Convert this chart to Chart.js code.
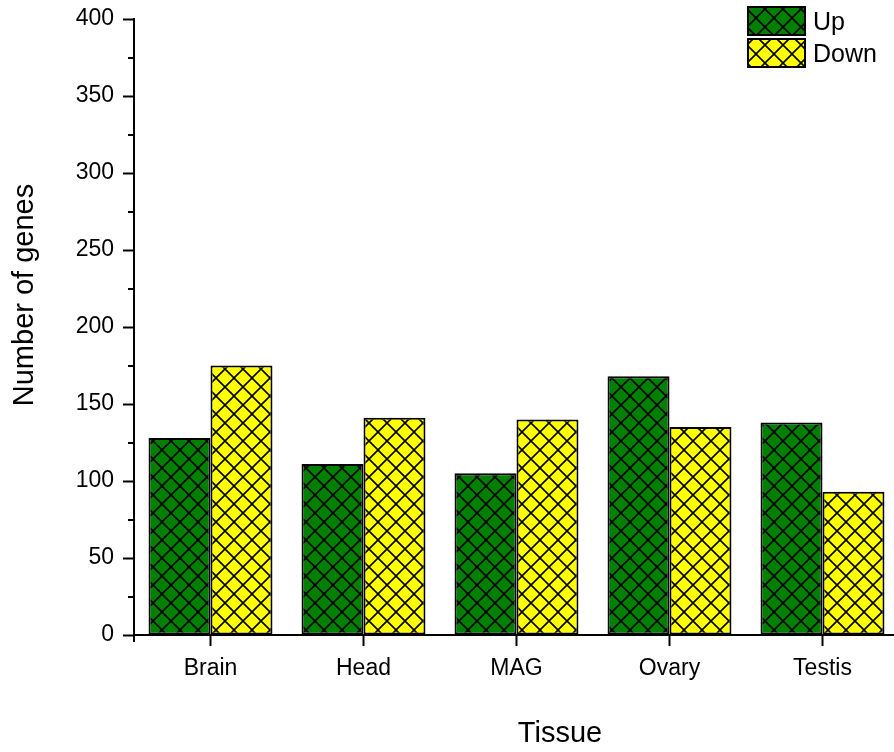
<!DOCTYPE html>
<html>
<head>
<meta charset="utf-8">
<script src="https://cdn.jsdelivr.net/npm/chart.js@4.4.1/dist/chart.umd.min.js"></script>
<style>
  html, body { margin: 0; padding: 0; background: #fff; overflow: hidden; }
  canvas { display: block; }
</style>
</head>
<body>
<canvas id="c" width="905" height="752"></canvas>
<script>
// Differentially expressed genes per tissue
const tissues = ['Brain', 'Head', 'MAG', 'Ovary', 'Testis'];
const upGenes = [128, 111, 105, 168, 138];
const downGenes = [175, 141, 140, 135, 93];
const seriesNames = ['Up', 'Down'];
const yMajorStep = 50;
const yMinorTicks = [25, 75, 125, 175, 225, 275, 325, 375];
const yRange = [0, 400];
const xTitle = 'Tissue';
const yTitle = 'Number of genes';

const FONT = "'Liberation Sans', Arial, sans-serif";
const canvas = document.getElementById('c');
const ctx = canvas.getContext('2d');

// cross-hatched fill: solid colour with black diagonal lines both ways
function crossHatch(color) {
  const s = 18;
  const tile = document.createElement('canvas');
  tile.width = tile.height = s;
  const g = tile.getContext('2d');
  g.fillStyle = color;
  g.fillRect(0, 0, s, s);
  g.strokeStyle = '#000';
  g.lineWidth = 1.6;
  g.beginPath();
  g.moveTo(-2, -2); g.lineTo(s + 2, s + 2);
  g.moveTo(-2, s + 2); g.lineTo(s + 2, -2);
  g.stroke();
  return ctx.createPattern(tile, 'repeat');
}

const upFill = crossHatch('#008000');
const downFill = crossHatch('#ffff00');

// extra drawing: minor ticks, axis titles and the legend
const decorations = {
  id: 'decorations',
  afterDraw(chart) {
    const c = chart.ctx;
    const area = chart.chartArea;
    const y = chart.scales.y;
    c.save();
    c.strokeStyle = '#000';
    c.lineWidth = 2;
    c.beginPath();
    yMinorTicks.forEach(v => {
      const py = Math.round(y.getPixelForValue(v));
      c.moveTo(area.left - 6, py);
      c.lineTo(area.left, py);
    });
    // short stub below the origin
    c.moveTo(area.left, area.bottom);
    c.lineTo(area.left, area.bottom + 7);
    c.stroke();

    // axis titles
    c.fillStyle = '#000';
    c.textAlign = 'center';
    c.textBaseline = 'alphabetic';
    c.font = '29px ' + FONT;
    c.fillText(xTitle, 560, 742);
    c.save();
    c.translate(33, 295);
    c.rotate(-Math.PI / 2);
    c.fillText(yTitle, 0, 0);
    c.restore();

    // legend
    const fills = [upFill, downFill];
    const boxes = [[748, 7], [748, 39]];
    c.font = '25px ' + FONT;
    c.textAlign = 'left';
    chart.data.datasets.forEach((ds, i) => {
      const [bx, by] = boxes[i];
      c.fillStyle = fills[i];
      c.fillRect(bx, by, 57, 28);
      c.lineWidth = 2;
      c.strokeStyle = '#000';
      c.strokeRect(bx, by, 57, 28);
      c.fillStyle = '#000';
      c.fillText(ds.label, 813, by + 23);
    });
    c.restore();
  }
};

new Chart(ctx, {
  type: 'bar',
  data: {
    labels: tissues,
    datasets: [
      { label: seriesNames[0], data: upGenes, backgroundColor: upFill },
      { label: seriesNames[1], data: downGenes, backgroundColor: downFill }
    ]
  },
  options: {
    responsive: false,
    animation: false,
    devicePixelRatio: 1,
    layout: { padding: { top: 19, right: 6, left: 0, bottom: 0 } },
    datasets: {
      bar: {
        borderColor: '#000',
        borderWidth: 2,
        borderSkipped: false,
        categoryPercentage: 0.81,
        barPercentage: 1.0
      }
    },
    plugins: {
      legend: { display: false },
      tooltip: { enabled: false }
    },
    scales: {
      x: {
        afterFit(s) { s.height = 117; },
        grid: {
          offset: false,
          drawOnChartArea: false,
          drawTicks: true,
          tickLength: 11,
          tickWidth: 2,
          tickColor: '#000'
        },
        border: { color: '#000', width: 2 },
        ticks: { color: '#000', padding: 9, font: { family: FONT, size: 23 } }
      },
      y: {
        min: yRange[0],
        max: yRange[1],
        afterFit(s) { s.width = 134; },
        grid: {
          drawOnChartArea: false,
          drawTicks: true,
          tickLength: 11,
          tickWidth: 2,
          tickColor: '#000'
        },
        border: { color: '#000', width: 2 },
        ticks: { stepSize: yMajorStep, color: '#000', padding: 9, font: { family: FONT, size: 23, lineHeight: 0.8 } }
      }
    }
  },
  plugins: [decorations]
});
</script>
</body>
</html>
